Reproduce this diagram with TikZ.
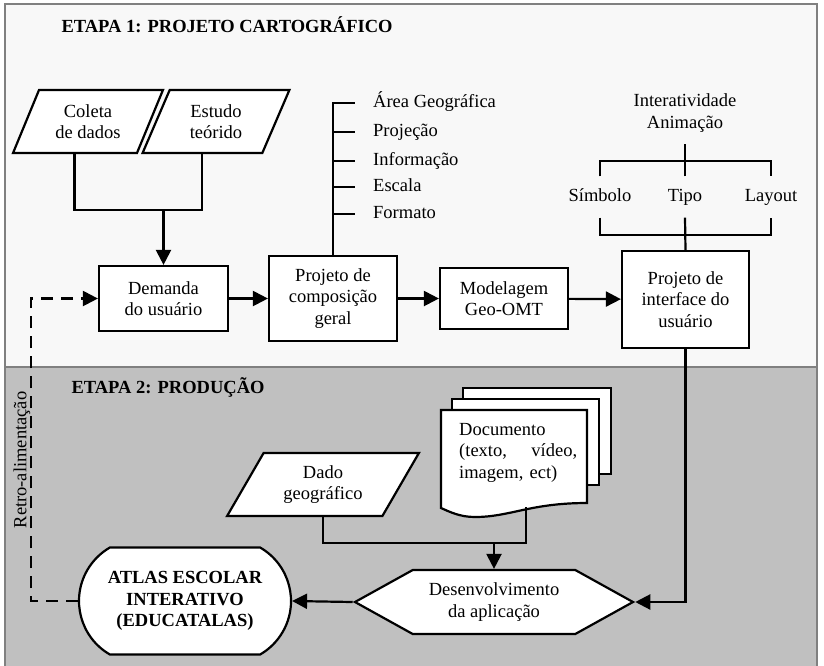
\documentclass[tikz,border=0pt]{standalone}
\usepackage{fontspec}
\setmainfont{Liberation Serif}
\usetikzlibrary{shapes.geometric,shapes.misc,shapes.symbols,arrows.meta}
\definecolor{etapaum}{RGB}{248,248,248}
\definecolor{etapadois}{RGB}{192,192,192}
\definecolor{moldura}{RGB}{128,128,128}
\newcommand{\fonte}{\fontsize{18.5}{21.5}\selectfont}
\tikzstyle{caixa}=[draw, fill=white, line width=2.2pt, align=center, inner sep=2pt]
\tikzstyle{dados}=[caixa, trapezium, trapezium stretches=true, minimum height=63pt]
\tikzstyle{rotulo}=[text height=13pt, text depth=4pt, inner sep=0pt]
\tikzset{linha/.style={line width=2.2pt}}
\tikzset{seta/.style={linha, -{Triangle[length=15pt,width=15pt]}}}
\tikzset{negrito/.style={font=\fonte\bfseries}}

\begin{document}
\begin{tikzpicture}[x=1pt,y=-1pt,font=\fonte]
  \useasboundingbox (0,0) rectangle (824,665);
  %% Etapas
  \draw[moldura, line width=2.5pt, fill=etapaum] (5,4) rectangle (817,367);
  \draw[moldura, line width=2.5pt, fill=etapadois] (5,367) rectangle (817,672);
  \draw (58,25) node[anchor=west,negrito] (etapa1) {ETAPA 1: PROJETO CARTOGRÁFICO};
  \draw (68,387) node[anchor=west,negrito] (etapa2) {ETAPA 2: PRODUÇÃO};

  %% Etapa 1
  \draw (88,121.5) node[dados, trapezium left angle=64.5, trapezium right angle=115.5, minimum width=150pt] (coleta) {Coleta\\de dados};
  \draw (216,121.5) node[dados, trapezium left angle=66.8, trapezium right angle=113.2, minimum width=148pt] (estudo) {Estudo\\teórido};
  \draw (163.5,298.5) node[caixa, minimum width=129pt, minimum height=65pt] (demanda) {Demanda\\do usuário};
  \draw (333,298.5) node[caixa, minimum width=128pt, minimum height=85pt] (composicao) {Projeto de\\composição\\geral};
  \draw (504,298.5) node[caixa, minimum width=128pt, minimum height=61pt] (modelagem) {Modelagem\\Geo-OMT};
  \draw (685.5,299.5) node[caixa, minimum width=127pt, minimum height=97pt] (interface) {Projeto de\\interface do\\usuário};

  \draw (373,103) node[rotulo,anchor=west] (area) {Área Geográfica};
  \draw (373,132) node[rotulo,anchor=west] (projecao) {Projeção};
  \draw (373,161) node[rotulo,anchor=west] (informacao) {Informação};
  \draw (373,187) node[rotulo,anchor=west] (escala) {Escala};
  \draw (373,214) node[rotulo,anchor=west] (formato) {Formato};

  \draw (685,113) node[align=center] (interacao) {Interatividade\\Animação};
  \draw (600,197) node[rotulo,inner ysep=12pt] (simbolo) {Símbolo};
  \draw (685,197) node[rotulo,inner ysep=12pt] (tipo) {Tipo};
  \draw (771,197) node[rotulo,inner ysep=12pt] (layout) {Layout};

  \coordinate (uniao) at (demanda.north |- 0,210);
  \draw[linha] (coleta.bottom side) |- (uniao) -| (estudo.bottom side);
  \draw[seta] (uniao) -- (demanda.north);
  \draw[seta] (demanda) -- (composicao);
  \draw[seta] (composicao) -- (modelagem);
  \draw[seta] (modelagem) -- (interface);

  \coordinate (tronco) at (composicao.north |- area.west);
  \draw[linha] (composicao.north) -- (tronco) -- ++(22,0);
  \draw[linha] (tronco |- projecao.west) -- ++(22,0);
  \draw[linha] (tronco |- informacao.west) -- ++(22,0);
  \draw[linha] (tronco |- escala.west) -- ++(22,0);
  \draw[linha] (tronco |- formato.west) -- ++(22,0);

  \draw[linha] (tipo.north) -- ++(0,-32);
  \draw[linha] (simbolo.north) -- ++(0,-15) -| (layout.north);
  \draw[linha] (simbolo.south) -- ++(0,17) -| (layout.south);
  \draw[linha] (tipo.south) -- (interface.north);

  %% Etapa 2
  \draw (323,484.5) node[dados, trapezium left angle=58.9, trapezium right angle=121.1, minimum width=192pt] (dado) {Dado\\geográfico};

  \draw[linha, fill=white] (463,388) rectangle (611,474);
  \draw[linha, fill=white] (452,399) rectangle (599,485);
  \draw[linha, fill=white] (441,410) -- (587,410) -- (587,503)
    .. controls (530,503) and (510,517) .. (475,517)
    .. controls (460,517) and (450,512) .. (441,508) -- cycle;
  \draw (459,423) node[anchor=north west, inner sep=0pt, text width=118pt, align=left] (documento) {Documento\\(texto,\hfill vídeo,\\imagem, ect)};
  \coordinate (docbase) at (526,507);

  \draw (494,602) node[caixa, signal, signal to=west and east, signal pointer angle=58, minimum width=278pt, minimum height=64pt] (desenvolvimento) {Desenvolvimento\\da aplicação};
  \draw (185,601) node[caixa, negrito, rounded rectangle, rounded rectangle arc length=120, minimum width=216pt, minimum height=107pt] (atlas) {ATLAS ESCOLAR\\INTERATIVO\\(EDUCATALAS)};

  \coordinate (juncao) at (desenvolvimento.north |- 0,543);
  \draw[linha] (dado.center |- dado.south) |- (juncao) -| (docbase);
  \draw[seta] (juncao) -- (desenvolvimento.north);
  \draw[seta] (interface.south) |- (desenvolvimento.east);
  \draw[seta] (desenvolvimento.west) -- (atlas.east);

  %% Retro-alimentacao
  \draw[seta, dash pattern=on 12pt off 8pt] (atlas.west) -- ++(-47,0) |- (demanda.west);
  \draw (22,460) node[rotate=90] (retro) {Retro-alimentação};
\end{tikzpicture}
\end{document}
